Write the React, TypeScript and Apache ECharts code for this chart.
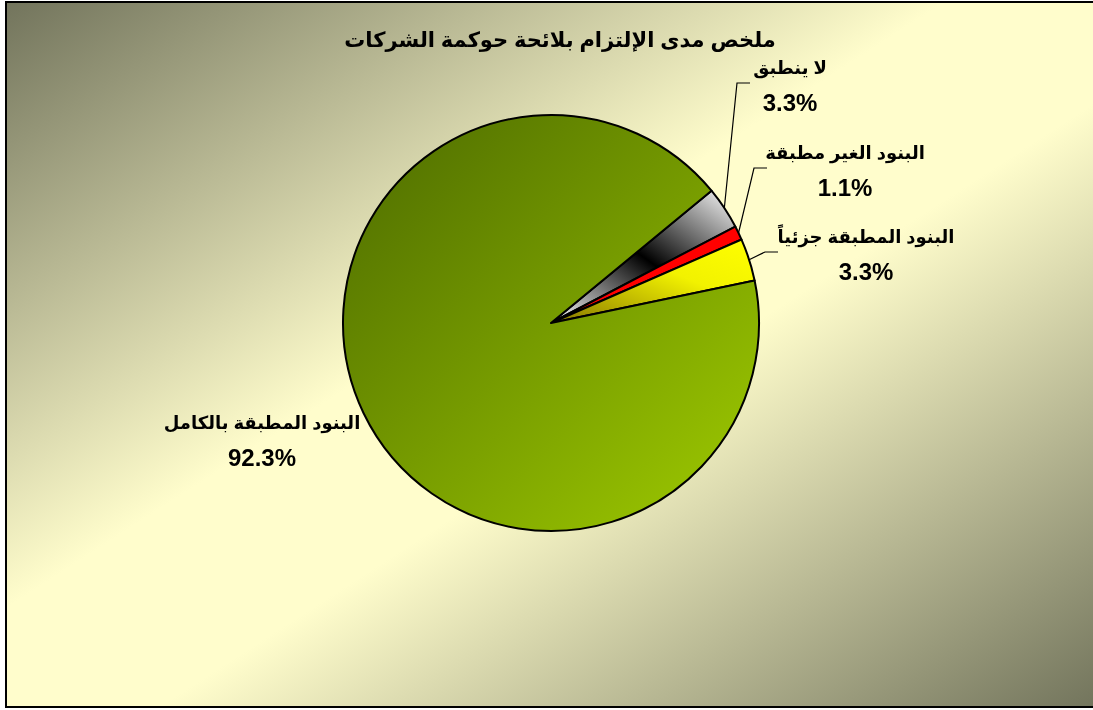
import React, { useEffect, useRef } from "react";
import * as echarts from "echarts";

const titleText = "ملخص مدى الإلتزام بلائحة حوكمة الشركات";
const categories = [
  "لا ينطبق",
  "البنود الغير مطبقة",
  "البنود المطبقة جزئياً",
  "البنود المطبقة بالكامل",
];
const values = [3.3, 1.1, 3.3, 92.3];

const FONT = "'Liberation Sans', Arial, 'DejaVu Sans', sans-serif";

// label centres and leader-line end offsets (styling only)
const labelCentres: [number, number][] = [
  [790, 85],
  [845, 170],
  [866, 254],
  [262, 440],
];
const leaderOffsets = [40, 78, 88, 0];

const sliceColors: any[] = [
  {
    type: "linear", x: 0, y: 1, x2: 1, y2: 0,
    colorStops: [
      { offset: 0, color: "#ffffff" },
      { offset: 0.5, color: "#000000" },
      { offset: 1, color: "#ffffff" },
    ],
  },
  "#ff0000",
  {
    type: "linear", x: 0, y: 1, x2: 1, y2: 0,
    colorStops: [
      { offset: 0, color: "#857500" },
      { offset: 0.6, color: "#f2f200" },
      { offset: 1, color: "#ffff00" },
    ],
  },
  {
    type: "linear", x: 0, y: 0, x2: 1, y2: 1,
    colorStops: [
      { offset: 0, color: "#4c6a00" },
      { offset: 1, color: "#a0cc00" },
    ],
  },
];

export default function App() {
  const ref = useRef<HTMLDivElement>(null);
  useEffect(() => {
    if (!ref.current) return;
    const chart = echarts.init(ref.current, undefined, { renderer: "svg" });
    const data = categories.map((name, i) => ({
      name,
      value: values[i],
      itemStyle: { color: sliceColors[i] },
      labelLine: { show: i !== 3 },
    }));
    chart.setOption({
      animation: false,
      graphic: [
        {
          type: "rect",
          z: -10,
          silent: true,
          shape: { x: 6, y: 2, width: 1092, height: 705 },
          style: {
            fill: {
              type: "linear", x: 0, y: 0, x2: 1, y2: 1,
              colorStops: [
                { offset: 0, color: "#72745c" },
                { offset: 0.43, color: "#fffdcc" },
                { offset: 0.57, color: "#fffdcc" },
                { offset: 1, color: "#72745c" },
              ],
            },
            stroke: "#000",
            lineWidth: 2,
          },
        },
      ],
      title: {
        text: titleText,
        left: 555,
        textAlign: "center",
        top: 24,
        textStyle: { fontSize: 21, fontWeight: "bold", color: "#000", fontFamily: FONT },
      },
      series: [
        {
          type: "pie",
          center: [551, 323],
          radius: 208,
          startAngle: 39.5,
          clockwise: true,
          avoidLabelOverlap: false,
          emphasis: { disabled: true },
          itemStyle: { borderColor: "#000", borderWidth: 2 },
          label: {
            show: true,
            position: "outside",
            formatter: (p: any) => `{n|${p.name}}\n{v|${Number(p.value).toFixed(1)}%}`,
            color: "#000",
            fontFamily: FONT,
            fontWeight: "bold",
            align: "center",
            rich: {
              n: { fontSize: 18, fontWeight: "bold", lineHeight: 34, fontFamily: FONT, color: "#000" },
              v: { fontSize: 24, fontWeight: "bold", lineHeight: 34, fontFamily: FONT, color: "#000" },
            },
          },
          labelLine: {
            show: true,
            length: 10,
            length2: 10,
            lineStyle: { color: "#000", width: 1.2 },
          },
          labelLayout: (params: any) => {
            const i = params.dataIndex;
            const [cx, cy] = labelCentres[i];
            const res: any = { x: cx, y: cy, align: "center", verticalAlign: "middle" };
            if (i !== 3 && params.labelLinePoints) {
              const p0 = params.labelLinePoints[0];
              const endX = cx - leaderOffsets[i];
              res.labelLinePoints = [p0, [endX - 13, cy - 2], [endX, cy - 2]];
            }
            return res;
          },
          data,
        },
      ],
    });
    return () => chart.dispose();
  }, []);
  return (
    <div
      ref={ref}
      style={{ position: "fixed", left: 0, top: 0, width: 1093, height: 710 }}
    />
  );
}
